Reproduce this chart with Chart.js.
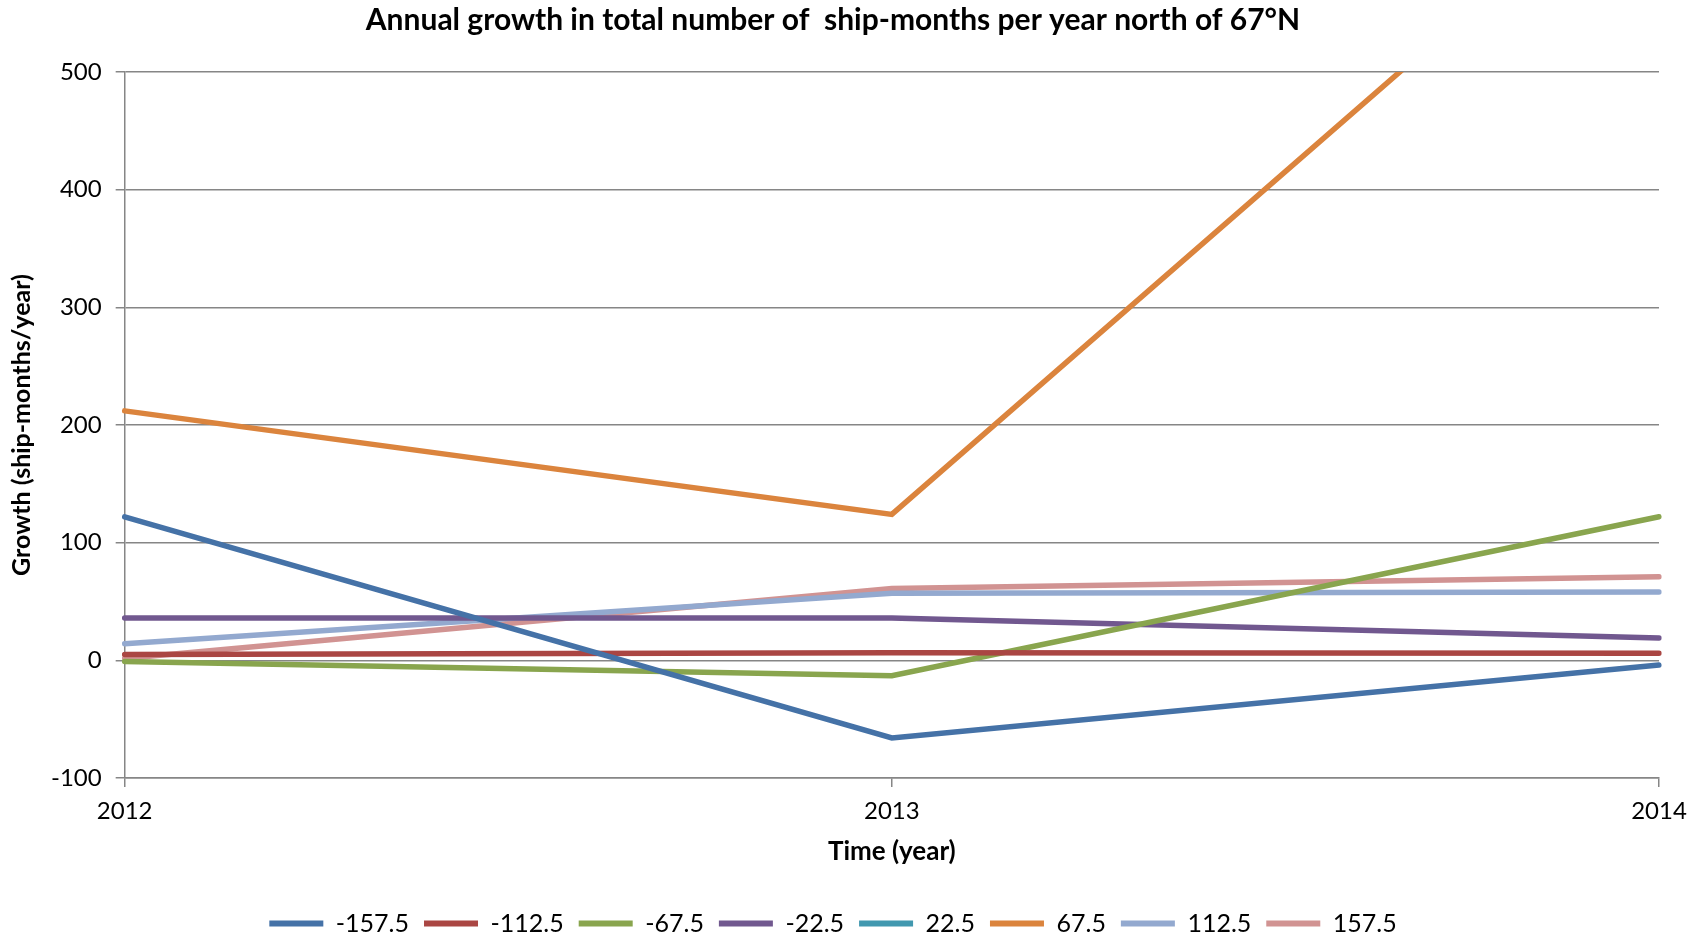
<!DOCTYPE html>
<html>
<head>
<meta charset="utf-8">
<script src="https://cdn.jsdelivr.net/npm/chart.js@4"></script>
<style>
  html, body { margin: 0; padding: 0; background: #fff; }
  .wrap { width: 1701px; height: 936px; }
</style>
</head>
<body>
<div class="wrap"><canvas class="js-chart" width="1701" height="936"></canvas></div>
<script>
const years = ["2012", "2013", "2014"];

const seriesNames = ["-157.5", "-112.5", "-67.5", "-22.5", "22.5", "67.5", "112.5", "157.5"];
const lon_m157 = [122, -66, -4];
const lon_m112 = [5, 6.5, 6];
const lon_m67 = [-1, -13, 122];
const lon_m22 = [36, 36, 19];
const lon_22 = [null, null, null];
const lon_67 = [212, 124, 692];
const lon_112 = [14, 57, 58];
const lon_157 = [1.5, 61, 71];

const colors = ["#4572A7", "#AA4643", "#89A54E", "#71588F", "#4198AF", "#DB843D", "#93A9CF", "#D19392"];

const ctx = document.querySelector(".js-chart").getContext("2d");
const font = "Lato, 'Open Sans', sans-serif";

drawChart();

function drawChart() {
  const allData = [lon_m157, lon_m112, lon_m67, lon_m22, lon_22, lon_67, lon_112, lon_157];
  const datasets = allData.map((d, i) => ({
    label: seriesNames[i],
    data: d,
    borderColor: colors[i],
    backgroundColor: colors[i],
    borderWidth: 5.5,
    pointRadius: 0,
    borderCapStyle: "round",
    tension: 0,
    fill: false,
  }));

  new Chart(ctx, {
    type: "line",
    data: { labels: years, datasets: datasets },
    options: {
      responsive: false,
      animation: false,
      layout: { padding: { left: 7, right: 42, top: 0, bottom: -10 } },
      plugins: {
        title: {
          display: true,
          text: "Annual growth in total number of  ship-months per year north of 67°N",
          color: "#000",
          font: { family: font, size: 30, weight: "bold" },
          padding: { top: 2, bottom: 34 },
        },
        legend: {
          position: "bottom",
          labels: {
            color: "#000",
            font: { family: font, size: 25 },
            boxWidth: 54,
            boxHeight: 6,
            padding: 15,
            generateLabels: (chart) =>
              chart.data.datasets.map((ds, i) => ({
                text: ds.label,
                fillStyle: ds.borderColor,
                strokeStyle: ds.borderColor,
                lineWidth: 0,
                datasetIndex: i,
                fontColor: "#000",
              })),
          },
        },
        tooltip: { enabled: false },
      },
      scales: {
        x: {
          offset: false,
          grid: {
            drawOnChartArea: false,
            drawTicks: true,
            tickLength: 9,
            color: "#868686",
            lineWidth: 1.5,
          },
          border: { color: "#868686", width: 1.5 },
          ticks: { color: "#000", font: { family: font, size: 24 }, padding: 10, maxRotation: 0 },
          title: {
            display: true,
            text: "Time (year)",
            color: "#000",
            font: { family: font, size: 26, weight: "bold" },
            padding: { top: 0, bottom: 29 },
          },
        },
        y: {
          min: -100,
          max: 500,
          grid: {
            color: "#868686",
            lineWidth: 1.5,
            tickLength: 9,
          },
          border: { color: "#868686", width: 1.5 },
          ticks: { stepSize: 100, color: "#000", font: { family: font, size: 24 }, padding: 14 },
          title: {
            display: true,
            text: "Growth (ship-months/year)",
            color: "#000",
            font: { family: font, size: 25, weight: "bold" },
            padding: { top: 0, bottom: 0 },
          },
        },
      },
    },
  });
}
</script>
</body>
</html>
